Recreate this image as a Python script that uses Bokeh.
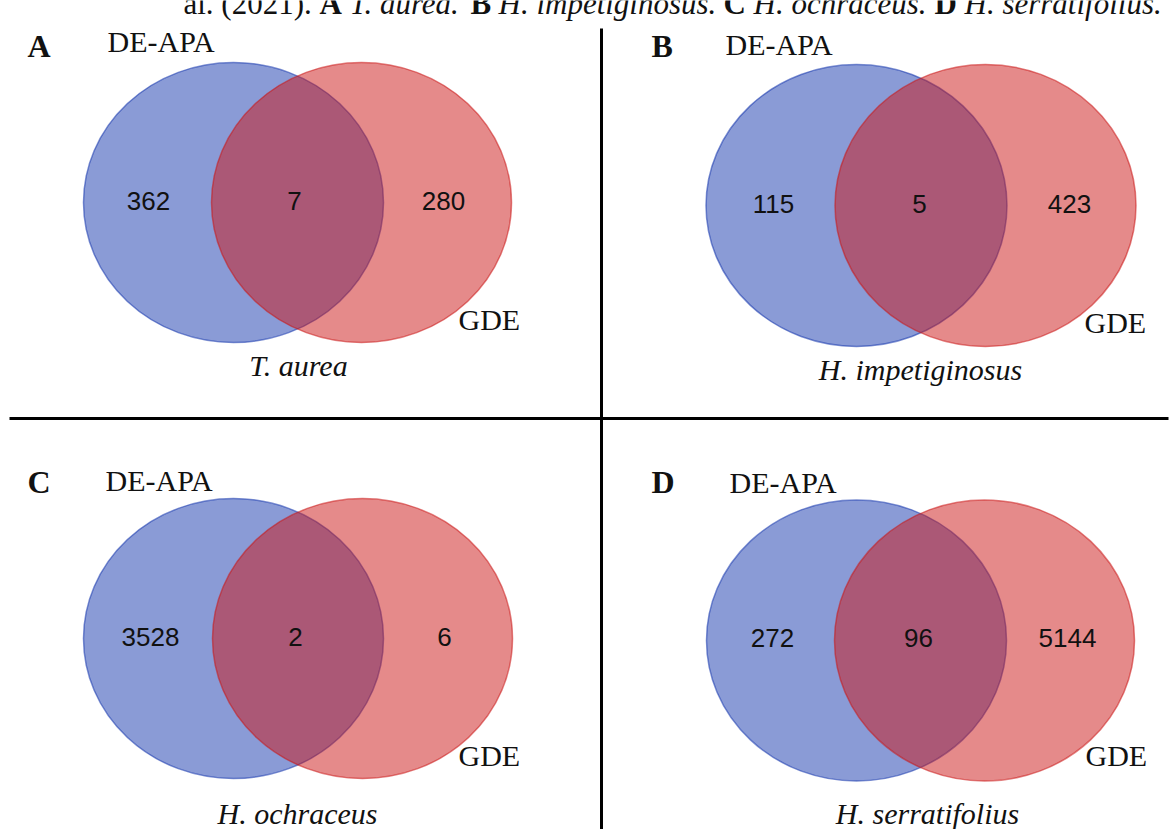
from bokeh.plotting import figure
from bokeh.models import Range1d
from bokeh.core.properties import value
from bokeh.embed import file_html
from bokeh.resources import INLINE

# ---- data -------------------------------------------------------------
panel_tags = ["A", "B", "C", "D"]
species = ["T. aurea", "H. impetiginosus", "H. ochraceus", "H. serratifolius"]
set_names = ["DE-APA", "GDE"]
de_apa_only = [362, 115, 3528, 272]
shared = [7, 5, 2, 96]
gde_only = [280, 423, 6, 5144]

# ---- layout (pixel coordinates, y grows downward) ---------------------
W, H = 1171, 829
panels = [
    dict(bx=233, rx=361, cy=202, ew=300, eh=280, tag=(27, 45), de=(107, 41),
         gde=(458, 319), sp=(298, 365), num_x=(148, 294, 443), num_y=200),
    dict(bx=856, rx=985, cy=205, ew=301, eh=282, tag=(651, 45), de=(725, 44),
         gde=(1084, 322), sp=(920, 369), num_x=(773, 919, 1069), num_y=203),
    dict(bx=233, rx=362, cy=638, ew=300, eh=280, tag=(27, 481), de=(105, 480),
         gde=(458, 755), sp=(297, 813), num_x=(150, 295, 444), num_y=636),
    dict(bx=856, rx=984, cy=640, ew=300, eh=281, tag=(651, 481), de=(729, 482),
         gde=(1085, 755), sp=(927, 813), num_x=(772, 918, 1067), num_y=637),
]

BLUE = "#1537AD"
RED = "#CB1515"
SERIF = value("Liberation Serif")
SANS = value("Liberation Sans")

p = figure(width=W, height=H, x_range=Range1d(0, W), y_range=Range1d(H, 0),
           output_backend="svg", toolbar_location=None, min_border=0,
           x_axis_location=None, y_axis_location=None)
p.grid.visible = False
p.outline_line_color = None
p.background_fill_color = "white"
p.border_fill_color = "white"

# set circles: DE-APA first, GDE drawn over it
p.ellipse(x=[g["bx"] for g in panels], y=[g["cy"] for g in panels],
          width=[g["ew"] for g in panels], height=[g["eh"] for g in panels],
          width_units="screen", height_units="screen",
          fill_color=BLUE, fill_alpha=0.5, line_color=BLUE, line_alpha=0.55,
          line_width=1.5)
p.ellipse(x=[g["rx"] for g in panels], y=[g["cy"] for g in panels],
          width=[g["ew"] for g in panels], height=[g["eh"] for g in panels],
          width_units="screen", height_units="screen",
          fill_color=RED, fill_alpha=0.5, line_color=RED, line_alpha=0.55,
          line_width=1.5)

# region counts
for i, g in enumerate(panels):
    counts = [de_apa_only[i], shared[i], gde_only[i]]
    p.text(x=list(g["num_x"]), y=[g["num_y"]] * 3, text=[str(c) for c in counts],
           text_font=SANS, text_font_size="26px", text_color="#111111",
           text_align="center", text_baseline="alphabetic")

# set names, panel letters, species names
p.text(x=[g["de"][0] for g in panels], y=[g["de"][1] for g in panels],
       text=[set_names[0]] * 4, text_font=SERIF, text_font_size="30px",
       text_color="#111111", text_align="left", text_baseline="alphabetic")
p.text(x=[g["gde"][0] for g in panels], y=[g["gde"][1] for g in panels],
       text=[set_names[1]] * 4, text_font=SERIF, text_font_size="30px",
       text_color="#111111", text_align="left", text_baseline="alphabetic")
p.text(x=[g["tag"][0] for g in panels], y=[g["tag"][1] for g in panels],
       text=panel_tags, text_font=SERIF, text_font_size="32px",
       text_font_style="bold", text_color="#111111", text_align="left",
       text_baseline="alphabetic")
p.text(x=[g["sp"][0] for g in panels], y=[g["sp"][1] for g in panels],
       text=species, text_font=SERIF, text_font_size="30px",
       text_font_style="italic", text_color="#111111", text_align="center",
       text_baseline="alphabetic")

# caption line running off the top edge
caption_parts = [
    ("al. (2021).", "normal", 183),
    ("A", "bold", 319),
    ("T. aurea.", "italic", 349),
    ("B", "bold", 470),
    ("H. impetiginosus.", "italic", 498),
    ("C", "bold", 723),
    ("H. ochraceus.", "italic", 753),
    ("D", "bold", 934),
    ("H. serratifolius.", "italic", 964),
]
for txt, style, x0 in caption_parts:
    p.text(x=[x0], y=[3], text=[txt], text_font=SERIF, text_font_size="31px",
           text_font_style=style, text_color="#111111", text_align="left",
           text_baseline="alphabetic")

# panel dividers
p.segment(x0=[9, 601], y0=[418, 28], x1=[1168, 601], y1=[418, H],
          line_color="black", line_width=3)

open("out.html", "w").write(file_html(p, INLINE))
